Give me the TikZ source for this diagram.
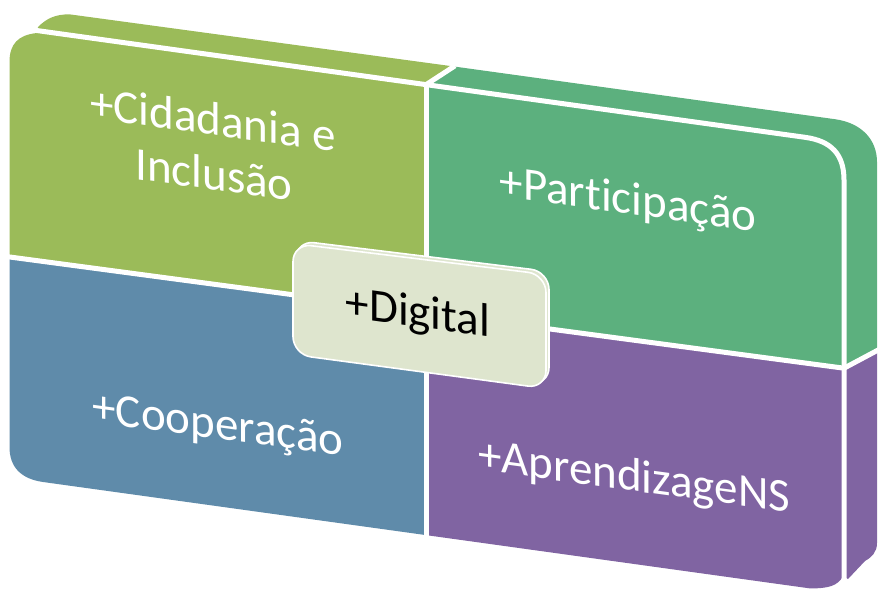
\documentclass[tikz,border=0pt]{standalone}
\usepackage{fontspec}
\setmainfont{Carlito}[Ligatures=NoCommon]
\definecolor{gA}{RGB}{155,187,89}
\definecolor{gB}{RGB}{92,176,126}
\definecolor{bC}{RGB}{95,139,170}
\definecolor{pD}{RGB}{128,100,162}
\definecolor{boxE}{RGB}{222,229,206}
\begin{document}
\begin{tikzpicture}[x=1pt,y=-1pt,
  sep/.style={white,line width=5pt,line join=round},
  boxst/.style={fill=boxE,draw=white,line width=1.6pt,rounded corners=18pt},
  lbl/.style={text=white,font=\fontsize{47}{54}\selectfont,anchor=base,yslant=-0.136,inner sep=0pt},
  dlbl/.style={text=black,font=\fontsize{47}{54}\selectfont,anchor=base,yslant=-0.136,inner sep=0pt}]
\useasboundingbox (0,0) rectangle (883,597);
% top-left green (front + top face)
\fill[gA] (9.5,258) -- (9.5,62) .. controls (9.5,44) and (18,35) .. (37,33) -- (38,27)
  .. controls (46,19) and (55,14) .. (70,14.4) -- (454,66.5) -- (426,84.7) -- (426,314) -- cycle;
% top-right green (front + top + side)
\fill[gB] (426,314) -- (426,84.7) -- (454,66.5) -- (835,119.2) .. controls (862,123) and (877,140) .. (877,162)
  -- (877,351) -- (844,368.2) -- cycle;
% bottom-left blue
\fill[bC] (9.5,256) -- (426,312) -- (426,535.1) -- (43,482) .. controls (22,479) and (9.5,468) .. (9.5,447) -- cycle;
% bottom-right purple (front + side)
\fill[pD] (426,312) -- (844,367) -- (877,350) -- (877,543) .. controls (877,552) and (872,557) .. (865,561)
  -- (848,579) -- (843,576) .. controls (838,586) and (828,588.5) .. (810,588.4) -- (426,535.1) -- cycle;
% white separators
\draw[sep] (28,29.3) -- (805,137.3) .. controls (832,141) and (844,155) .. (844,180) -- (844,579);
\draw[sep] (426,84.7) -- (426,540);
\draw[sep] (426,84.7) -- (455,65.8);
\draw[sep] (0,255.7) -- (844,368.2) -- (880,349);
% labels
\node[lbl] (cid1) at (213,135) {+Cidadania e};
\node[lbl] (cid2) at (214,190) {Inclusão};
\node[lbl] (part) at (628,214) {+Par{t\kern0pt i}cipação};
\node[lbl] (coop) at (218,439) {+Cooperação};
\node[lbl] (apre) at (634,491) {+AprendizageNS};
% centre box
\draw[boxst,shift={(3,-3)}] (293,243.5) -- (546,274.5) -- (546,388.5) -- (293,354.5) -- cycle;
\draw[boxst] (293,243.5) -- (546,274.5) -- (546,388.5) -- (293,354.5) -- cycle;
\node[dlbl] (dig) at (418,327) {+Digital};
\end{tikzpicture}
\end{document}
